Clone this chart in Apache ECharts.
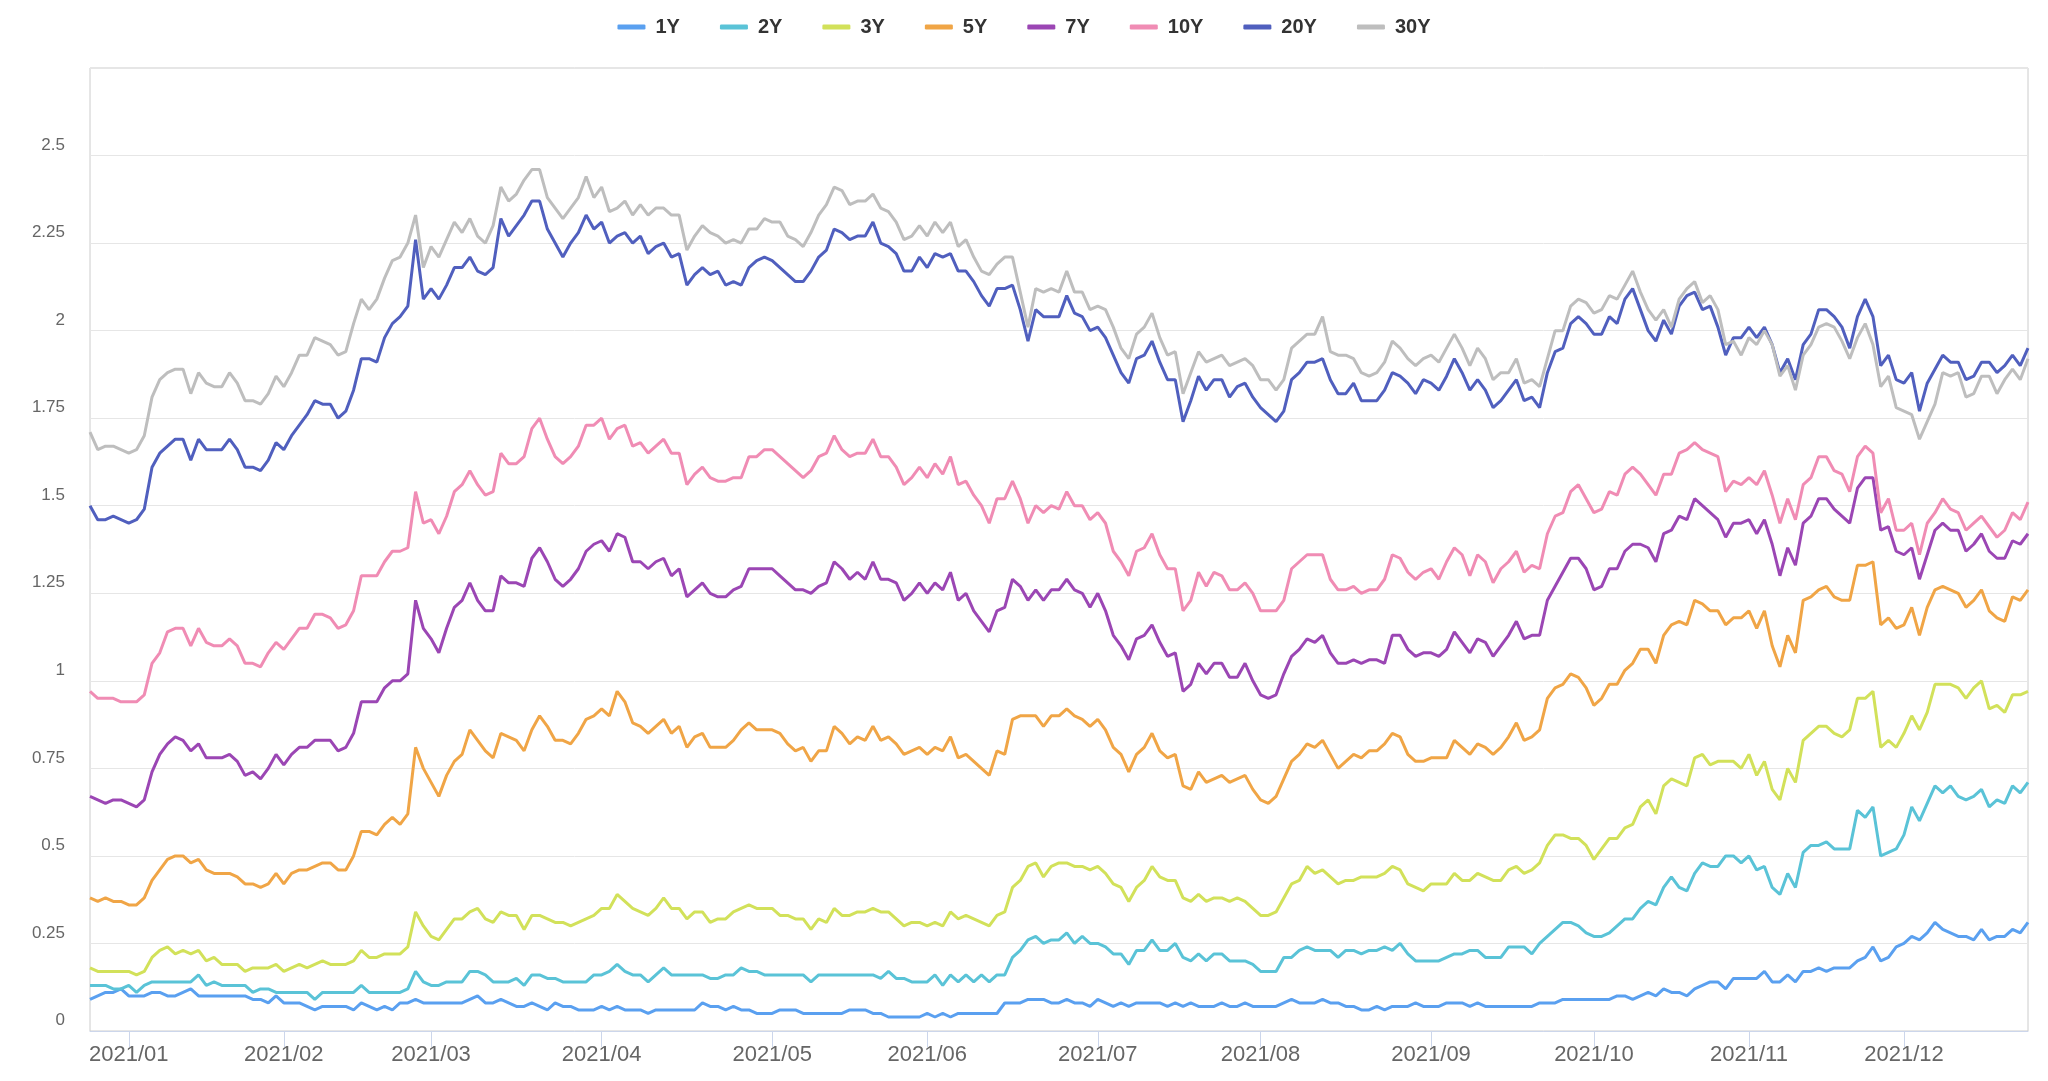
<!DOCTYPE html>
<html>
<head>
<meta charset="utf-8">
<title>Yield chart</title>
<script src="https://cdn.jsdelivr.net/npm/echarts@6/dist/echarts.min.js"></script>
<style>
html,body{margin:0;padding:0;background:#fff;}
#chart{width:2048px;height:1081px;}
</style>
</head>
<body>
<div id="chart"></div>
<script>
// ---- categories: trading days per month ----
const monthKeys = ['2020/12','2021/01','2021/02','2021/03','2021/04','2021/05','2021/06','2021/07','2021/08','2021/09','2021/10','2021/11','2021/12'];
const monthCounts = [5,20,19,22,22,20,22,21,22,21,20,20,17];

const seriesNames = ['1Y','2Y','3Y','5Y','7Y','10Y','20Y','30Y'];
const seriesColors = ['#5aa0f0','#5ac3d7','#d2e15a','#f0a546','#9b46b4','#f08cb4','#505fbe','#bebebe'];

const y1 = [
.09,.10,.11,.11,.12,.10,.10,.10,.11,.11,
.10,.10,.11,.12,.10,.10,.10,.10,.10,.10,
.10,.09,.09,.08,.10,.08,.08,.08,.07,.06,
.07,.07,.07,.07,.06,.08,.07,.06,.07,.06,
.08,.08,.09,.08,.08,.08,.08,.08,.08,.09,
.10,.08,.08,.09,.08,.07,.07,.08,.07,.06,
.08,.07,.07,.06,.06,.06,.07,.06,.07,.06,
.06,.06,.05,.06,.06,.06,.06,.06,.06,.08,
.07,.07,.06,.07,.06,.06,.05,.05,.05,.06,
.06,.06,.05,.05,.05,.05,.05,.05,.06,.06,
.06,.05,.05,.04,.04,.04,.04,.04,.05,.04,
.05,.04,.05,.05,.05,.05,.05,.05,.08,.08,
.08,.09,.09,.09,.08,.08,.09,.08,.08,.07,
.09,.08,.07,.08,.07,.08,.08,.08,.08,.07,
.08,.07,.08,.07,.07,.07,.08,.07,.07,.08,
.07,.07,.07,.07,.08,.09,.08,.08,.08,.09,
.08,.08,.07,.07,.06,.06,.07,.06,.07,.07,
.07,.08,.07,.07,.07,.08,.08,.08,.07,.08,
.07,.07,.07,.07,.07,.07,.07,.08,.08,.08,
.09,.09,.09,.09,.09,.09,.09,.10,.10,.09,
.10,.11,.10,.12,.11,.11,.10,.12,.13,.14,
.14,.12,.15,.15,.15,.15,.17,.14,.14,.16,
.14,.17,.17,.18,.17,.18,.18,.18,.20,.21,
.24,.20,.21,.24,.25,.27,.26,.28,.31,.29,
.28,.27,.27,.26,.29,.26,.27,.27,.29,.28,.31
];

const y2 = [
.13,.13,.13,.12,.12,.13,.11,.13,.14,.14,
.14,.14,.14,.14,.16,.13,.14,.13,.13,.13,
.13,.11,.12,.12,.11,.11,.11,.11,.11,.09,
.11,.11,.11,.11,.11,.13,.11,.11,.11,.11,
.11,.12,.17,.14,.13,.13,.14,.14,.14,.17,
.17,.16,.14,.14,.14,.15,.13,.16,.16,.15,
.15,.14,.14,.14,.14,.16,.16,.17,.19,.17,
.16,.16,.14,.16,.18,.16,.16,.16,.16,.16,
.15,.15,.16,.16,.18,.17,.17,.16,.16,.16,
.16,.16,.16,.14,.16,.16,.16,.16,.16,.16,
.16,.16,.15,.17,.15,.15,.14,.14,.14,.16,
.13,.16,.14,.16,.14,.16,.14,.16,.16,.21,
.23,.26,.27,.25,.26,.26,.28,.25,.27,.25,
.25,.24,.22,.22,.19,.23,.23,.26,.23,.23,
.25,.21,.20,.22,.20,.22,.22,.20,.20,.20,
.19,.17,.17,.17,.21,.21,.23,.24,.23,.23,
.23,.21,.23,.23,.22,.23,.23,.24,.23,.25,
.22,.20,.20,.20,.20,.21,.22,.22,.23,.23,
.21,.21,.21,.24,.24,.24,.22,.25,.27,.29,
.31,.31,.30,.28,.27,.27,.28,.30,.32,.32,
.35,.37,.36,.41,.44,.41,.40,.45,.48,.47,
.47,.50,.50,.48,.50,.46,.47,.41,.39,.45,
.41,.51,.53,.53,.54,.52,.52,.52,.63,.61,
.64,.50,.51,.52,.56,.64,.60,.65,.70,.68,
.70,.67,.66,.67,.69,.64,.66,.65,.70,.68,.71
];

const y3 = [
.18,.17,.17,.17,.17,.17,.16,.17,.21,.23,
.24,.22,.23,.22,.23,.20,.21,.19,.19,.19,
.17,.18,.18,.18,.19,.17,.18,.19,.18,.19,
.20,.19,.19,.19,.20,.23,.21,.21,.22,.22,
.22,.24,.34,.30,.27,.26,.29,.32,.32,.34,
.35,.32,.31,.34,.33,.33,.29,.33,.33,.32,
.31,.31,.30,.31,.32,.33,.35,.35,.39,.37,
.35,.34,.33,.35,.38,.35,.35,.32,.34,.34,
.31,.32,.32,.34,.35,.36,.35,.35,.35,.33,
.33,.32,.32,.29,.32,.31,.35,.33,.33,.34,
.34,.35,.34,.34,.32,.30,.31,.31,.30,.31,
.30,.34,.32,.33,.32,.31,.30,.33,.34,.41,
.43,.47,.48,.44,.47,.48,.48,.47,.47,.46,
.47,.45,.42,.41,.37,.41,.43,.47,.44,.43,
.43,.38,.37,.39,.37,.38,.38,.37,.38,.37,
.35,.33,.33,.34,.38,.42,.43,.47,.45,.46,
.44,.42,.43,.43,.44,.44,.44,.45,.47,.46,
.42,.41,.40,.42,.42,.42,.45,.43,.43,.45,
.44,.43,.43,.46,.47,.45,.46,.48,.53,.56,
.56,.55,.55,.53,.49,.52,.55,.55,.58,.59,
.64,.66,.62,.70,.72,.71,.70,.78,.79,.76,
.77,.77,.77,.75,.79,.73,.77,.69,.66,.75,
.71,.83,.85,.87,.87,.85,.84,.86,.95,.95,
.97,.81,.83,.81,.85,.90,.86,.91,.99,.99,
.99,.98,.95,.98,1.00,.92,.93,.91,.96,.96,.97
];

const y5 = [
.38,.37,.38,.37,.37,.36,.36,.38,.43,.46,
.49,.50,.50,.48,.49,.46,.45,.45,.45,.44,
.42,.42,.41,.42,.45,.42,.45,.46,.46,.47,
.48,.48,.46,.46,.50,.57,.57,.56,.59,.61,
.59,.62,.81,.75,.71,.67,.73,.77,.79,.86,
.83,.80,.78,.85,.84,.83,.80,.86,.90,.87,
.83,.83,.82,.85,.89,.90,.92,.90,.97,.94,
.88,.87,.85,.87,.89,.85,.87,.81,.84,.85,
.81,.81,.81,.83,.86,.88,.86,.86,.86,.85,
.82,.80,.81,.77,.80,.80,.87,.85,.82,.84,
.83,.87,.83,.84,.82,.79,.80,.81,.79,.81,
.80,.84,.78,.79,.77,.75,.73,.80,.79,.89,
.90,.90,.90,.87,.90,.90,.92,.90,.89,.87,
.89,.86,.81,.79,.74,.79,.81,.85,.80,.78,
.79,.70,.69,.74,.71,.72,.73,.71,.72,.73,
.69,.66,.65,.67,.72,.77,.79,.82,.81,.83,
.79,.75,.77,.79,.78,.80,.80,.82,.85,.84,
.79,.77,.77,.78,.78,.78,.83,.81,.79,.82,
.81,.79,.81,.84,.88,.83,.84,.86,.95,.98,
.99,1.02,1.01,.98,.93,.95,.99,.99,1.03,1.05,
1.09,1.09,1.05,1.13,1.16,1.17,1.16,1.23,1.22,1.20,
1.20,1.16,1.18,1.18,1.20,1.15,1.20,1.10,1.04,1.13,
1.08,1.23,1.24,1.26,1.27,1.24,1.23,1.23,1.33,1.33,
1.34,1.16,1.18,1.15,1.16,1.21,1.13,1.21,1.26,1.27,
1.26,1.25,1.21,1.23,1.26,1.20,1.18,1.17,1.24,1.23,1.26
];

const y7 = [
.67,.66,.65,.66,.66,.65,.64,.66,.74,.79,
.82,.84,.83,.80,.82,.78,.78,.78,.79,.77,
.73,.74,.72,.75,.79,.76,.79,.81,.81,.83,
.83,.83,.80,.81,.85,.94,.94,.94,.98,1.00,
1.00,1.02,1.23,1.15,1.12,1.08,1.15,1.21,1.23,1.28,
1.23,1.20,1.20,1.30,1.28,1.28,1.27,1.35,1.38,1.34,
1.29,1.27,1.29,1.32,1.37,1.39,1.40,1.37,1.42,1.41,
1.34,1.34,1.32,1.34,1.35,1.30,1.32,1.24,1.26,1.28,
1.25,1.24,1.24,1.26,1.27,1.32,1.32,1.32,1.32,1.30,
1.28,1.26,1.26,1.25,1.27,1.28,1.34,1.32,1.29,1.31,
1.29,1.34,1.29,1.29,1.28,1.23,1.25,1.28,1.25,1.28,
1.26,1.31,1.23,1.25,1.20,1.17,1.14,1.20,1.21,1.29,
1.27,1.23,1.26,1.23,1.26,1.26,1.29,1.26,1.25,1.21,
1.25,1.20,1.13,1.10,1.06,1.12,1.13,1.16,1.11,1.07,
1.08,.97,.99,1.05,1.02,1.05,1.05,1.01,1.01,1.05,
1.00,.96,.95,.96,1.02,1.07,1.09,1.12,1.11,1.13,
1.08,1.05,1.05,1.06,1.05,1.06,1.06,1.05,1.13,1.13,
1.09,1.07,1.08,1.08,1.07,1.09,1.14,1.11,1.08,1.12,
1.11,1.07,1.10,1.13,1.17,1.12,1.13,1.13,1.23,1.27,
1.31,1.35,1.35,1.32,1.26,1.27,1.32,1.32,1.37,1.39,
1.39,1.38,1.34,1.42,1.43,1.47,1.46,1.52,1.50,1.48,
1.46,1.41,1.45,1.45,1.46,1.42,1.46,1.39,1.30,1.38,
1.33,1.45,1.47,1.52,1.52,1.49,1.47,1.45,1.55,1.58,
1.58,1.43,1.44,1.37,1.36,1.38,1.29,1.36,1.43,1.45,
1.43,1.43,1.37,1.39,1.42,1.37,1.35,1.35,1.40,1.39,1.42
];

const y10 = [
.97,.95,.95,.95,.94,.94,.94,.96,1.05,1.08,
1.14,1.15,1.15,1.10,1.15,1.11,1.10,1.10,1.12,1.10,
1.05,1.05,1.04,1.08,1.11,1.09,1.12,1.15,1.15,1.19,
1.19,1.18,1.15,1.16,1.20,1.30,1.30,1.30,1.34,1.37,
1.37,1.38,1.54,1.45,1.46,1.42,1.47,1.54,1.56,1.60,
1.56,1.53,1.54,1.65,1.62,1.62,1.64,1.72,1.75,1.69,
1.64,1.62,1.64,1.67,1.73,1.73,1.75,1.69,1.72,1.73,
1.67,1.68,1.65,1.67,1.69,1.65,1.65,1.56,1.59,1.61,
1.58,1.57,1.57,1.58,1.58,1.64,1.64,1.66,1.66,1.64,
1.62,1.60,1.58,1.60,1.64,1.65,1.70,1.66,1.64,1.65,
1.65,1.69,1.64,1.64,1.61,1.56,1.58,1.61,1.58,1.62,
1.59,1.64,1.56,1.57,1.53,1.50,1.45,1.52,1.52,1.57,
1.52,1.45,1.50,1.48,1.50,1.49,1.54,1.50,1.50,1.46,
1.48,1.45,1.37,1.34,1.30,1.37,1.38,1.42,1.36,1.32,
1.32,1.20,1.23,1.31,1.27,1.31,1.30,1.26,1.26,1.28,
1.25,1.20,1.20,1.20,1.23,1.32,1.34,1.36,1.36,1.36,
1.29,1.26,1.26,1.27,1.25,1.26,1.26,1.29,1.36,1.35,
1.31,1.29,1.31,1.32,1.29,1.34,1.38,1.36,1.30,1.36,
1.34,1.28,1.32,1.34,1.37,1.31,1.33,1.32,1.42,1.47,
1.48,1.54,1.56,1.52,1.48,1.49,1.54,1.53,1.59,1.61,
1.59,1.56,1.53,1.59,1.59,1.65,1.66,1.68,1.66,1.65,
1.64,1.54,1.57,1.56,1.58,1.56,1.60,1.53,1.45,1.52,
1.46,1.56,1.58,1.64,1.64,1.60,1.59,1.54,1.64,1.67,
1.65,1.48,1.52,1.43,1.43,1.45,1.36,1.45,1.48,1.52,
1.49,1.48,1.43,1.45,1.47,1.44,1.41,1.43,1.48,1.46,1.51
];

const y20 = [
1.50,1.46,1.46,1.47,1.46,1.45,1.46,1.49,1.61,1.65,
1.67,1.69,1.69,1.63,1.69,1.66,1.66,1.66,1.69,1.66,
1.61,1.61,1.60,1.63,1.68,1.66,1.70,1.73,1.76,1.80,
1.79,1.79,1.75,1.77,1.83,1.92,1.92,1.91,1.98,2.02,
2.04,2.07,2.26,2.09,2.12,2.09,2.13,2.18,2.18,2.21,
2.17,2.16,2.18,2.32,2.27,2.30,2.33,2.37,2.37,2.29,
2.25,2.21,2.25,2.28,2.33,2.29,2.31,2.25,2.27,2.28,
2.25,2.27,2.22,2.24,2.25,2.21,2.22,2.13,2.16,2.18,
2.16,2.17,2.13,2.14,2.13,2.18,2.20,2.21,2.20,2.18,
2.16,2.14,2.14,2.17,2.21,2.23,2.29,2.28,2.26,2.27,
2.27,2.31,2.25,2.24,2.22,2.17,2.17,2.21,2.18,2.22,
2.21,2.22,2.17,2.17,2.14,2.10,2.07,2.12,2.12,2.13,
2.06,1.97,2.06,2.04,2.04,2.04,2.10,2.05,2.04,2.00,
2.01,1.98,1.93,1.88,1.85,1.92,1.93,1.97,1.91,1.86,
1.86,1.74,1.80,1.87,1.83,1.86,1.86,1.81,1.84,1.85,
1.81,1.78,1.76,1.74,1.77,1.86,1.88,1.91,1.91,1.92,
1.86,1.82,1.82,1.85,1.80,1.80,1.80,1.83,1.88,1.87,
1.85,1.82,1.86,1.85,1.83,1.87,1.92,1.88,1.83,1.86,
1.83,1.78,1.80,1.83,1.86,1.80,1.81,1.78,1.88,1.94,
1.95,2.02,2.04,2.02,1.99,1.99,2.04,2.02,2.09,2.12,
2.06,2.00,1.97,2.03,1.99,2.07,2.10,2.11,2.06,2.07,
2.01,1.93,1.98,1.98,2.01,1.98,2.01,1.96,1.88,1.92,
1.86,1.96,1.99,2.06,2.06,2.04,2.01,1.95,2.04,2.09,
2.04,1.90,1.93,1.86,1.85,1.88,1.77,1.85,1.89,1.93,
1.91,1.91,1.86,1.87,1.91,1.91,1.88,1.90,1.93,1.90,1.95
];

const y30 = [
1.71,1.66,1.67,1.67,1.66,1.65,1.66,1.70,1.81,1.86,
1.88,1.89,1.89,1.82,1.88,1.85,1.84,1.84,1.88,1.85,
1.80,1.80,1.79,1.82,1.87,1.84,1.88,1.93,1.93,1.98,
1.97,1.96,1.93,1.94,2.02,2.09,2.06,2.09,2.15,2.20,
2.21,2.25,2.33,2.18,2.24,2.21,2.26,2.31,2.28,2.32,
2.27,2.25,2.30,2.41,2.37,2.39,2.43,2.46,2.46,2.38,
2.35,2.32,2.35,2.38,2.44,2.38,2.41,2.34,2.35,2.37,
2.33,2.36,2.33,2.35,2.35,2.33,2.33,2.23,2.27,2.30,
2.28,2.27,2.25,2.26,2.25,2.29,2.29,2.32,2.31,2.31,
2.27,2.26,2.24,2.28,2.33,2.36,2.41,2.40,2.36,2.37,
2.37,2.39,2.35,2.34,2.31,2.26,2.27,2.30,2.27,2.31,
2.28,2.31,2.24,2.26,2.21,2.17,2.16,2.19,2.21,2.21,
2.11,2.01,2.12,2.11,2.12,2.11,2.17,2.11,2.11,2.06,
2.07,2.06,2.01,1.95,1.92,1.99,2.01,2.05,1.98,1.93,
1.94,1.82,1.88,1.94,1.91,1.92,1.93,1.90,1.91,1.92,
1.90,1.86,1.86,1.83,1.86,1.95,1.97,1.99,1.99,2.04,
1.94,1.93,1.93,1.92,1.88,1.87,1.88,1.91,1.97,1.95,
1.92,1.90,1.92,1.93,1.91,1.95,1.99,1.95,1.90,1.95,
1.92,1.86,1.88,1.88,1.92,1.85,1.86,1.84,1.92,2.00,
2.00,2.07,2.09,2.08,2.05,2.06,2.10,2.09,2.13,2.17,
2.11,2.06,2.03,2.06,2.01,2.09,2.12,2.14,2.08,2.10,
2.06,1.96,1.97,1.93,1.98,1.96,2.00,1.96,1.87,1.90,
1.83,1.93,1.96,2.01,2.02,2.01,1.97,1.92,1.98,2.02,
1.96,1.84,1.87,1.78,1.77,1.76,1.69,1.74,1.79,1.88,
1.87,1.88,1.81,1.82,1.87,1.87,1.82,1.86,1.89,1.86,1.92
];

const seriesValues = [y1, y2, y3, y5, y7, y10, y20, y30];

// ---- build category dates (weekdays) from month counts ----
function buildDates() {
  const out = [];
  monthKeys.forEach((mk, mi) => {
    const parts = mk.split('/').map(Number);
    const yr = parts[0], mo = parts[1];
    const dim = new Date(yr, mo, 0).getDate();
    const days = [];
    for (let d = 1; d <= dim; d++) {
      const wd = new Date(yr, mo - 1, d).getDay();
      if (wd !== 0 && wd !== 6) days.push(d);
    }
    const n = monthCounts[mi];
    const pick = mi === 0 ? days.slice(days.length - n) : days.slice(0, n);
    pick.forEach(d => out.push(mk + '/' + String(d).padStart(2, '0')));
  });
  return out;
}
const dates = buildDates();

function isMonthStart(index) {
  return index > 0 && dates[index].slice(0, 7) !== dates[index - 1].slice(0, 7);
}

const chart = echarts.init(document.getElementById('chart'), null, { renderer: 'canvas' });
const option = {
  animation: false,
  backgroundColor: '#ffffff',
  color: seriesColors,
  legend: {
    top: 12,
    left: 'center',
    itemWidth: 28,
    itemHeight: 5,
    itemGap: 40,
    icon: 'roundRect',
    data: seriesNames,
    textStyle: {
      fontSize: 20,
      fontWeight: 'bold',
      color: '#333',
      fontFamily: 'Liberation Sans, Arial, sans-serif',
      padding: [0, 0, 0, 5]
    }
  },
  grid: {
    left: 90,
    right: 20,
    top: 68,
    bottom: 50,
    show: true,
    borderColor: '#cccccc',
    borderWidth: 1,
    containLabel: false
  },
  xAxis: {
    type: 'category',
    boundaryGap: false,
    data: dates,
    axisLine: { lineStyle: { color: '#ccd6eb', width: 1 } },
    axisTick: {
      show: true,
      length: 16,
      interval: function (index) { return isMonthStart(index); },
      lineStyle: { color: '#ccd6eb' }
    },
    axisLabel: {
      interval: function (index) { return isMonthStart(index); },
      formatter: function (v) { return v.slice(0, 7); },
      fontSize: 22,
      color: '#666',
      margin: 13,
      fontFamily: 'Liberation Sans, Arial, sans-serif'
    },
    splitLine: { show: false }
  },
  yAxis: {
    type: 'value',
    min: 0,
    max: 2.75,
    interval: 0.25,
    axisLine: { show: false },
    axisTick: { show: false },
    axisLabel: {
      showMaxLabel: false,
      verticalAlign: 'bottom',
      fontSize: 17,
      color: '#666',
      margin: 25,
      padding: [0, 0, 2, 0],
      fontFamily: 'Liberation Sans, Arial, sans-serif'
    },
    splitLine: { lineStyle: { color: '#e6e6e6', width: 1 } }
  },
  series: seriesNames.map((name, i) => ({
    name: name,
    type: 'line',
    data: seriesValues[i],
    symbol: 'none',
    showSymbol: false,
    smooth: false,
    lineStyle: { width: 3, color: seriesColors[i] },
    itemStyle: { color: seriesColors[i] }
  }))
};
chart.setOption(option);
</script>
</body>
</html>
